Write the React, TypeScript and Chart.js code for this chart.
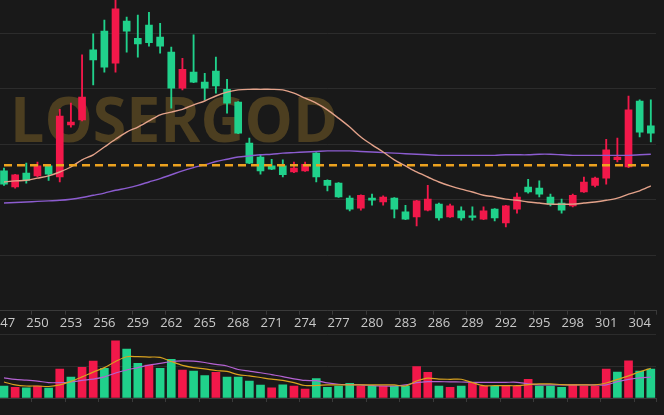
import React, { useEffect, useRef } from "react";
import { Chart, registerables } from "chart.js";

Chart.register(...registerables);

// ---------- data ----------
const categories = [
  "247", "248", "249", "250", "251", "252", "253", "254", "255", "256",
  "257", "258", "259", "260", "261", "262", "263", "264", "265", "266",
  "267", "268", "269", "270", "271", "272", "273", "274", "275", "276",
  "277", "278", "279", "280", "281", "282", "283", "284", "285", "286",
  "287", "288", "289", "290", "291", "292", "293", "294", "295", "296",
  "297", "298", "299", "300", "301", "302", "303", "304", "305",
];

const opens = [
  10.52, 10.23, 10.48, 10.43, 10.61, 10.41, 11.35, 11.44, 12.70, 13.04,
  12.46, 13.22, 12.91, 13.15, 12.93, 12.66, 12.01, 12.30, 12.12, 12.32,
  11.99, 11.76, 11.02, 10.77, 10.61, 10.61, 10.50, 10.52, 10.84, 10.35,
  10.30, 10.03, 9.85, 10.03, 9.96, 10.03, 9.78, 9.69, 9.81, 9.92,
  9.69, 9.80, 9.71, 9.65, 9.83, 9.58, 9.83, 10.23, 10.21, 10.05,
  9.94, 9.89, 10.14, 10.26, 10.39, 10.72, 10.59, 11.78, 11.33,
];
const highs = [
  10.57, 10.46, 10.66, 10.68, 10.62, 11.63, 11.74, 12.61, 12.99, 13.24,
  13.63, 13.29, 13.33, 13.38, 13.18, 12.75, 12.55, 12.97, 12.28, 12.57,
  12.17, 11.77, 11.11, 10.82, 10.73, 10.72, 10.68, 10.68, 10.85, 10.36,
  10.31, 10.07, 10.09, 10.10, 10.07, 10.04, 9.90, 9.99, 10.26, 9.94,
  9.92, 9.87, 9.87, 9.87, 9.84, 9.90, 10.12, 10.37, 10.34, 10.10,
  10.01, 10.10, 10.41, 10.41, 11.09, 11.11, 11.87, 11.80, 11.80,
];
const lows = [
  10.26, 10.21, 10.30, 10.41, 10.35, 10.32, 11.31, 11.42, 12.07, 12.30,
  12.30, 12.66, 12.57, 12.77, 12.64, 11.65, 11.98, 12.11, 11.80, 11.92,
  11.56, 11.19, 10.65, 10.46, 10.54, 10.41, 10.49, 10.51, 10.32, 10.16,
  10.04, 9.80, 9.81, 9.90, 9.90, 9.67, 9.64, 9.53, 9.80, 9.63,
  9.68, 9.63, 9.63, 9.64, 9.62, 9.51, 9.76, 10.12, 10.05, 9.89,
  9.76, 9.87, 10.13, 10.23, 10.28, 10.68, 10.58, 11.13, 11.04,
];
const closes = [
  10.28, 10.45, 10.35, 10.61, 10.46, 11.51, 11.40, 11.85, 12.52, 12.39,
  13.44, 13.04, 12.81, 12.83, 12.77, 12.01, 12.35, 12.12, 12.01, 12.05,
  11.74, 11.20, 10.66, 10.52, 10.55, 10.45, 10.57, 10.64, 10.41, 10.26,
  10.05, 9.83, 10.08, 9.99, 10.05, 9.83, 9.65, 9.98, 10.01, 9.67,
  9.89, 9.67, 9.68, 9.80, 9.67, 9.89, 10.05, 10.14, 10.10, 9.92,
  9.81, 10.08, 10.32, 10.39, 10.90, 10.77, 11.62, 11.22, 11.20,
];

const maShort = [
  10.32, 10.34, 10.35, 10.39, 10.43, 10.50, 10.59, 10.72, 10.81, 10.95,
  11.09, 11.22, 11.31, 11.42, 11.53, 11.58, 11.63, 11.71, 11.78, 11.87,
  11.94, 11.98, 11.99, 11.99, 11.99, 11.98, 11.92, 11.83, 11.74, 11.62,
  11.47, 11.31, 11.13, 10.99, 10.86, 10.72, 10.61, 10.50, 10.41, 10.32,
  10.25, 10.19, 10.14, 10.08, 10.05, 10.01, 9.99, 9.96, 9.94, 9.92,
  9.92, 9.92, 9.94, 9.96, 9.99, 10.03, 10.10, 10.16, 10.25,
];
const maLong = [
  9.94, 9.95, 9.96, 9.97, 9.98, 9.99, 10.01, 10.04, 10.08, 10.12,
  10.17, 10.21, 10.26, 10.32, 10.38, 10.45, 10.52, 10.58, 10.63, 10.69,
  10.73, 10.77, 10.79, 10.81, 10.82, 10.84, 10.85, 10.86, 10.87, 10.88,
  10.88, 10.88, 10.87, 10.86, 10.85, 10.84, 10.83, 10.82, 10.81, 10.80,
  10.80, 10.80, 10.80, 10.80, 10.80, 10.81, 10.81, 10.81, 10.82, 10.82,
  10.81, 10.80, 10.80, 10.80, 10.80, 10.80, 10.80, 10.81, 10.82,
];
const alertLevel = 10.62;

const volumes = [
  37.5, 33, 32, 37.5, 31, 90, 65, 96, 115, 93,
  179, 153, 108, 103, 93, 121, 87.5, 84, 70, 80,
  65, 65, 53, 40, 32, 41, 37.5, 28, 61, 33,
  37.5, 46, 37.5, 37.5, 37.5, 37.5, 37.5, 98, 80, 37.5,
  33, 37.5, 46, 37.5, 37.5, 37.5, 37.5, 58, 37.5, 37.5,
  33, 41, 37.5, 37.5, 90, 81, 116, 84, 90,
];
const volMa5 = [
  50, 41, 37.5, 37.5, 36, 41, 52, 66, 81, 95,
  114, 129, 129, 128, 127, 114, 102, 95, 91, 86,
  83, 73, 69, 64, 59, 55, 48, 39, 39, 41,
  41, 41, 41, 41, 41, 41, 37.5, 53, 62, 59,
  58.5, 58.5, 48, 38.5, 38.5, 38.5, 38.5, 42, 44, 44,
  42, 41, 41, 41, 47, 58, 69, 82, 93,
];
const volMa10 = [
  63, 58, 56, 53, 48, 48, 50, 55, 59, 66,
  78, 87.5, 95, 103, 108, 114, 116, 115, 111, 105,
  100, 89, 84, 79, 73, 67, 60, 55, 54, 47,
  43, 42, 41, 39, 37.5, 37.5, 41, 48, 51, 51,
  50.5, 50, 49, 49, 49, 49, 49, 44, 41, 41,
  41, 41, 41, 41, 41, 51, 58, 63, 65,
];

const watermark = "LOSERGOD";

// ---------- styles ----------
const BG = "#191919";
const GRID = "#2c2c2c";
const AXIS = "#3a3a3a";
const UP = "#f2184a";
const DOWN = "#20d18b";
const FONT = "'Open Sans', 'DejaVu Sans', sans-serif";

const candleColors = closes.map((c, i) => (c >= opens[i] ? UP : DOWN));
const volumeColors = closes.map((c, i) =>
  c >= (i > 0 ? closes[i - 1] : opens[i]) ? UP : DOWN
);

const tickEvery3 = (ctx: any) =>
  ctx.index === undefined || ctx.index % 3 === 0 ? AXIS : "rgba(0,0,0,0)";

const watermarkPlugin = {
  id: "watermark",
  beforeDatasetsDraw(chart: any) {
    const { ctx, chartArea } = chart;
    ctx.save();
    ctx.font = `bold 63px ${FONT}`;
    ctx.fillStyle = "rgb(76,62,32)";
    ctx.textAlign = "left";
    ctx.textBaseline = "alphabetic";
    ctx.fillText(watermark, chartArea.left + 11.6, 142, 328);
    ctx.restore();
  },
};

const SHIFT = 40; // canvas starts left of the page (chart is cropped on the left)
const CW = 740;
const PLOT_LEFT = SHIFT - 1.58;
const RIGHT_AXIS = CW - (SHIFT + 656.4);

export default function App() {
  const mainRef = useRef<HTMLCanvasElement | null>(null);
  const volRef = useRef<HTMLCanvasElement | null>(null);

  useEffect(() => {
    document.body.style.margin = "0";
    document.body.style.background = BG;

    const main = new Chart(mainRef.current as HTMLCanvasElement, {
      type: "bar",
      data: {
        labels: categories,
        datasets: [
          {
            type: "line",
            data: categories.map(() => alertLevel),
            borderColor: "#eca21f",
            borderWidth: 2.5,
            borderDash: [8, 5],
            pointRadius: 0,
            order: 0,
          } as any,
          {
            type: "line",
            data: maShort,
            borderColor: "#e3a28a",
            borderWidth: 1.4,
            pointRadius: 0,
            tension: 0.3,
            order: 1,
          },
          {
            type: "line",
            data: maLong,
            borderColor: "#8c5ccf",
            borderWidth: 1.4,
            pointRadius: 0,
            tension: 0.3,
            order: 1,
          },
          {
            type: "bar",
            data: opens.map((o, i) => [o, closes[i]]),
            backgroundColor: candleColors,
            barThickness: 7,
            minBarLength: 1.5,
            grouped: false,
            order: 2,
          } as any,
          {
            type: "bar",
            data: lows.map((l, i) => [l, highs[i]]),
            backgroundColor: candleColors,
            barThickness: 1.2,
            grouped: false,
            order: 3,
          } as any,
        ],
      },
      options: {
        responsive: false,
        animation: false,
        events: [],
        layout: { padding: { left: PLOT_LEFT, right: 0, top: 0, bottom: 0 } },
        plugins: { legend: { display: false }, tooltip: { enabled: false } },
        scales: {
          x: {
            type: "category",
            offset: true,
            grid: {
              offset: true,
              drawOnChartArea: false,
              drawTicks: true,
              tickLength: 4,
              color: tickEvery3,
            },
            border: { display: true, color: AXIS },
            ticks: {
              autoSkip: false,
              maxRotation: 0,
              minRotation: 0,
              padding: 1,
              color: "#c9c9c9",
              font: { family: FONT, size: 13 },
              callback: (_v: any, i: number) => (i % 3 === 0 ? categories[i] : ""),
            },
            afterFit: (s: any) => {
              s.height = 23.3;
            },
          },
          y: {
            position: "right",
            min: 8,
            max: 13.6,
            ticks: { display: false, stepSize: 1, includeBounds: false },
            grid: { color: GRID, drawTicks: false },
            border: { display: false },
            afterFit: (s: any) => {
              s.width = RIGHT_AXIS;
            },
          },
        },
      } as any,
      plugins: [watermarkPlugin],
    });

    const vol = new Chart(volRef.current as HTMLCanvasElement, {
      type: "bar",
      data: {
        labels: categories,
        datasets: [
          {
            type: "line",
            data: volMa5,
            borderColor: "#d9a21f",
            borderWidth: 1.2,
            pointRadius: 0,
            tension: 0.3,
            order: 0,
          },
          {
            type: "line",
            data: volMa10,
            borderColor: "#b462d2",
            borderWidth: 1.2,
            pointRadius: 0,
            tension: 0.3,
            order: 0,
          },
          {
            type: "bar",
            data: volumes,
            backgroundColor: volumeColors,
            barThickness: 8,
            grouped: false,
            order: 1,
          } as any,
        ],
      },
      options: {
        responsive: false,
        animation: false,
        events: [],
        layout: { padding: { left: PLOT_LEFT, right: 0, top: 4, bottom: 0 } },
        plugins: { legend: { display: false }, tooltip: { enabled: false } },
        scales: {
          x: {
            type: "category",
            offset: true,
            grid: {
              offset: true,
              drawOnChartArea: false,
              drawTicks: true,
              tickLength: 4,
              color: tickEvery3,
            },
            border: { display: true, color: AXIS },
            ticks: {
              autoSkip: false,
              maxRotation: 0,
              color: "#c9c9c9",
              font: { family: FONT, size: 13 },
              callback: () => "",
            },
            afterFit: (s: any) => {
              s.height = 17;
            },
          },
          y: {
            position: "right",
            min: 0,
            max: 200,
            ticks: { display: false, stepSize: 100 },
            grid: { color: GRID, drawTicks: false },
            border: { display: false },
            afterFit: (s: any) => {
              s.width = RIGHT_AXIS;
            },
          },
        },
      } as any,
    });

    return () => {
      main.destroy();
      vol.destroy();
    };
  }, []);

  return (
    <div
      style={{
        position: "fixed",
        left: 0,
        top: 0,
        width: 664,
        height: 415,
        overflow: "hidden",
        background: BG,
      }}
    >
      <canvas
        ref={mainRef}
        width={CW}
        height={334}
        style={{ position: "absolute", left: -SHIFT, top: 0, width: CW, height: 334 }}
      />
      <canvas
        ref={volRef}
        width={CW}
        height={85}
        style={{ position: "absolute", left: -SHIFT, top: 330, width: CW, height: 85 }}
      />
    </div>
  );
}
